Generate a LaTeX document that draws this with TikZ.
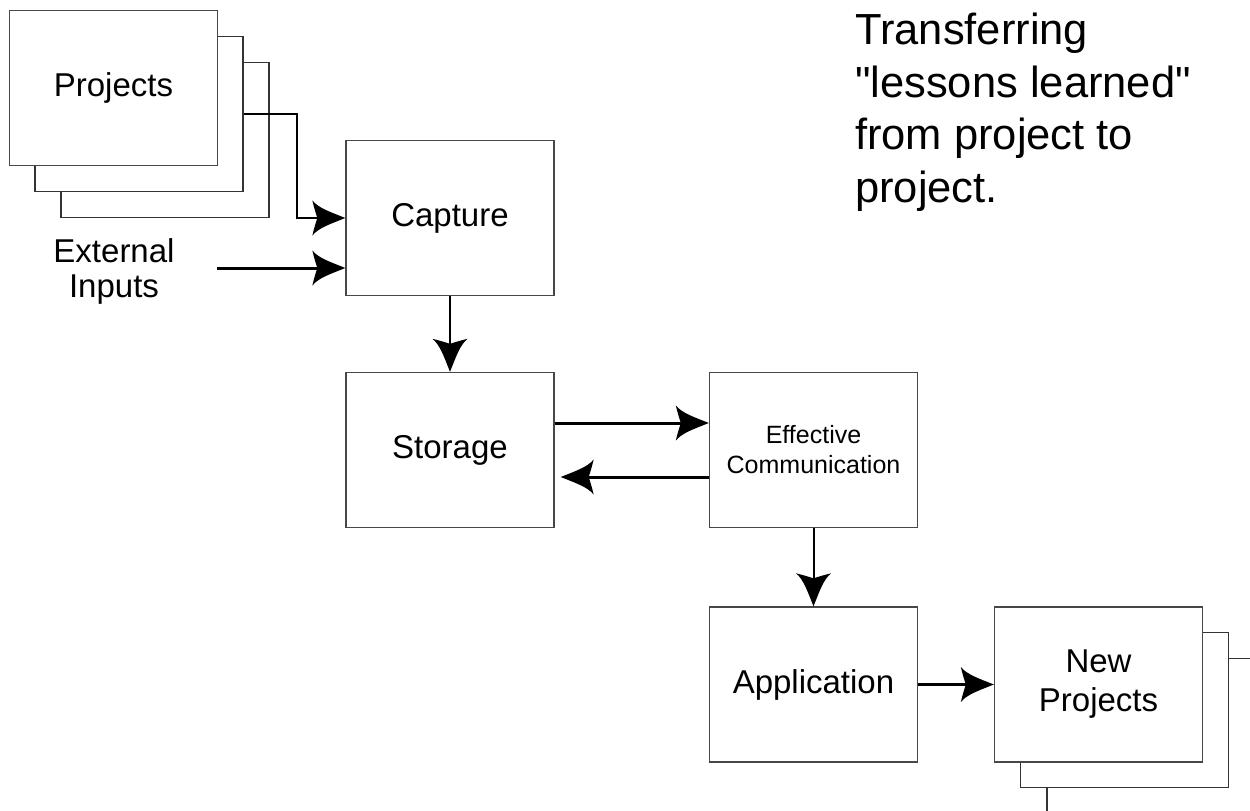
\documentclass[tikz,border=0pt]{standalone}
\usepackage{fontspec}
\setmainfont{Liberation Sans}
% same face without the TeX quote mapping, so " stays a straight quote
\newfontfamily\plainsans{Liberation Sans}
\usetikzlibrary{arrows.meta}

% Filled arrowhead with flared barbs and a curved back notch
\pgfdeclarearrow{
  name = Swept,
  setup code = {
    \pgfarrowssettipend{0pt}
    \pgfarrowssetlineend{-25pt}
    \pgfarrowsupperhullpoint{-33pt}{17.5pt}
    \pgfarrowsupperhullpoint{0pt}{0pt}
  },
  drawing code = {
    \pgfpathmoveto{\pgfqpoint{0pt}{0pt}}
    \pgfpathcurveto{\pgfqpoint{-15pt}{6pt}}{\pgfqpoint{-27pt}{10pt}}{\pgfqpoint{-33pt}{17.5pt}}
    \pgfpathcurveto{\pgfqpoint{-31pt}{9pt}}{\pgfqpoint{-29pt}{3pt}}{\pgfqpoint{-28pt}{0pt}}
    \pgfpathcurveto{\pgfqpoint{-29pt}{-3pt}}{\pgfqpoint{-31pt}{-9pt}}{\pgfqpoint{-33pt}{-17.5pt}}
    \pgfpathcurveto{\pgfqpoint{-27pt}{-10pt}}{\pgfqpoint{-15pt}{-6pt}}{\pgfqpoint{0pt}{0pt}}
    \pgfpathclose
    \pgfusepathqfill
  },
}

\tikzset{
  box/.style={draw=black!72, line width=1.3pt, fill=white,
    minimum width=208pt, minimum height=155pt, inner sep=0pt,
    align=center, font=\fontsize{33}{39}\selectfont},
  smallbox/.style={box, font=\fontsize{25}{30}\selectfont},
  layer/.style={draw=black!80, line width=1.3pt, fill=white,
    minimum width=208pt, minimum height=155pt, inner sep=0pt},
  conn/.style={line width=2pt, -{Swept}},
  heavyconn/.style={line width=3pt, -{Swept}},
  plain/.style={font=\fontsize{33}{35}\selectfont, align=center},
}

\begin{document}
\begin{tikzpicture}[x=1pt, y=-1pt]
\useasboundingbox (0,0) rectangle (1250,811);
\clip (0,0) rectangle (1250,811);

% stacked project sheets (top left)
\node[layer] (proj3) at (165,140) {};
\node[layer] (proj2) at (139,114) {};
\node[box]   (proj)  at (113.5,88) {Projects};

% stacked new project sheets (bottom right)
\node[layer] (newproj3) at (1151,736) {};
\node[layer] (newproj2) at (1124.5,710) {};
\node[box]   (newproj)  at (1098.5,684.5) {New\\Projects};

% process boxes
\node[box] (capture) at (450,218) {Capture};
\node[box] (storage) at (450,450) {Storage};
\node[smallbox] (comm) at (813.5,450) {Effective\\Communication};
\node[box] (appl) at (813.5,684.5) {Application};

% side texts
\node[plain] (extin) at (114,271) {External\\Inputs};
\coordinate (extstart) at (217,268);
\node[anchor=north west, align=left, inner sep=0pt,
      font=\plainsans\fontsize{43.5}{52.5}\selectfont] (title) at (855,13)
  {Transferring\\"lessons learned"\\from project to\\project.};

% connectors
\draw[conn] (proj2.east) -- ++(53,0) |- (capture.west);
\draw[heavyconn] (extstart) -- (capture.west |- extstart);
\draw[conn] (capture.south) -- (storage.north);
\draw[heavyconn] ([yshift=27pt]storage.east) -- ([yshift=27pt]comm.west);
\draw[heavyconn, shorten >=6pt] ([yshift=-27pt]comm.west) -- ([yshift=-27pt]storage.east);
\draw[conn] (comm.south) -- (appl.north);
\draw[heavyconn] (appl.east) -- (newproj.west);
\end{tikzpicture}
\end{document}
